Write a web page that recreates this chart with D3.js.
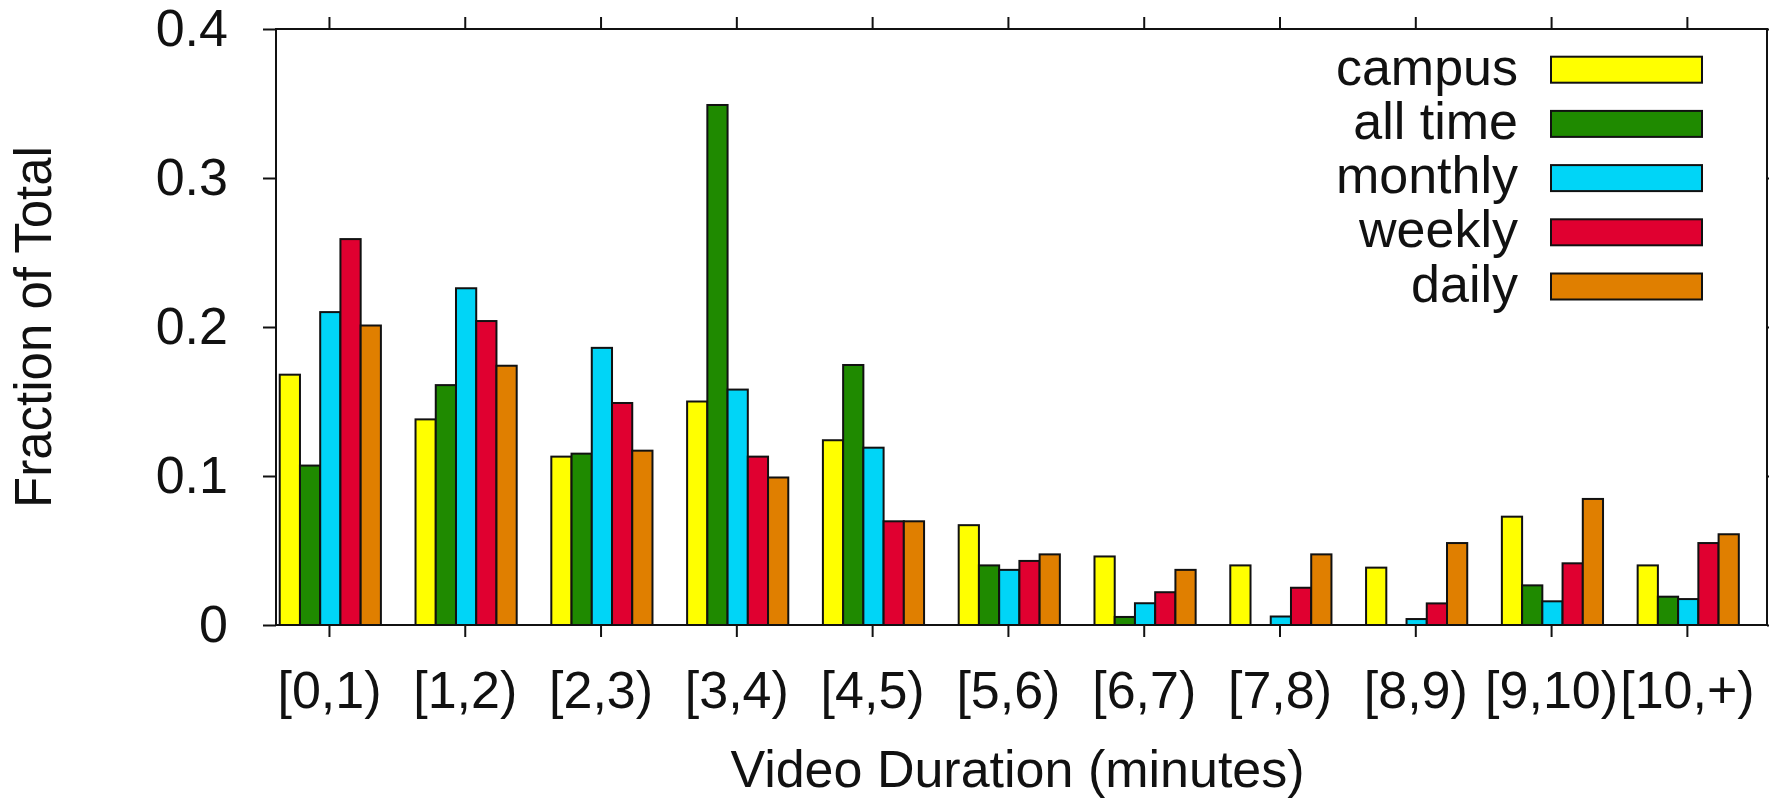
<!DOCTYPE html>
<html>
<head>
<meta charset="utf-8">
<script src="https://cdn.jsdelivr.net/npm/d3@7"></script>
<style>
body { margin: 0; background: #fff; }
svg { display: block; font-family: "Liberation Sans", Arial, sans-serif; }
</style>
</head>
<body>
<svg id="chart" width="1769" height="800"></svg>
<script>
var categories = ["[0,1)", "[1,2)", "[2,3)", "[3,4)", "[4,5)", "[5,6)", "[6,7)", "[7,8)", "[8,9)", "[9,10)", "[10,+)"];
var series_names = ["campus", "all time", "monthly", "weekly", "daily"];
var series_colors = ["#ffff00", "#1f8a00", "#00d5f7", "#e00030", "#e07f00"];
var campus   = [0.168, 0.138, 0.113, 0.150, 0.124, 0.067, 0.046, 0.040, 0.0385, 0.0727, 0.040];
var all_time = [0.107, 0.161, 0.115, 0.349, 0.1745, 0.040, 0.0054, 0, 0, 0.0266, 0.019];
var monthly  = [0.210, 0.226, 0.186, 0.158, 0.119, 0.037, 0.0146, 0.0057, 0.004, 0.0159, 0.0174];
var weekly   = [0.259, 0.204, 0.149, 0.113, 0.0696, 0.043, 0.022, 0.025, 0.0145, 0.0414, 0.055];
var daily    = [0.201, 0.174, 0.117, 0.099, 0.0696, 0.0474, 0.037, 0.0474, 0.055, 0.0846, 0.0609];
var y_ticks = [0, 0.1, 0.2, 0.3, 0.4];

var series = [campus, all_time, monthly, weekly, daily];

// plot frame (window.top is reserved, so no plain "top")
var plot_left = 276, plot_right = 1767, plot_top = 29, plot_bottom = 625;
var bar_w = 0.149; // in category units

var svg = d3.select("#chart");
var x = d3.scaleLinear().domain([-0.39, 10.59]).range([plot_left, plot_right]);
var y = d3.scaleLinear().domain([0, 0.4]).range([plot_bottom, plot_top]);

// bars
series.forEach(function(values, j){
	svg.append("g").selectAll("rect")
	.data(values)
	.enter().append("rect")
	.attr("x", function(d, i){ return x(i + (j - 2.5) * bar_w + 0.01); })
	.attr("y", function(d){ return y(d); })
	.attr("width", x(bar_w) - x(0))
	.attr("height", function(d){ return y(0) - y(d); })
	.attr("fill", series_colors[j])
	.attr("stroke", "#111")
	.attr("stroke-width", 2)
	.style("display", function(d){ return d > 0 ? null : "none"; });
});

// axes (ticks outward, mirrored)
var idx = d3.range(categories.length);
var x_bottom = d3.axisBottom(x).tickValues(idx).tickFormat(function(i){ return categories[i]; })
	.tickSize(12).tickSizeOuter(0).tickPadding(34);
var x_top = d3.axisTop(x).tickValues(idx).tickFormat("").tickSize(12).tickSizeOuter(0);
var y_left = d3.axisLeft(y).tickValues(y_ticks).tickFormat(d3.format("")).tickSize(13).tickSizeOuter(0).tickPadding(35);
var y_right = d3.axisRight(y).tickValues(y_ticks).tickFormat("").tickSize(13).tickSizeOuter(0);

svg.append("g").attr("transform", "translate(0," + plot_bottom + ")").call(x_bottom);
svg.append("g").attr("transform", "translate(0," + plot_top + ")").call(x_top);
svg.append("g").attr("transform", "translate(" + plot_left + ",0)").call(y_left);
svg.append("g").attr("transform", "translate(" + plot_right + ",0)").call(y_right);

svg.selectAll(".domain").remove();
svg.selectAll(".tick line").attr("stroke", "#111").attr("stroke-width", 2);
svg.selectAll(".tick text").attr("font-size", 52).attr("fill", "#111")
	.attr("font-family", "Liberation Sans, Arial, sans-serif");

// frame
svg.append("rect")
.attr("x", plot_left).attr("y", plot_top)
.attr("width", plot_right - plot_left).attr("height", plot_bottom - plot_top)
.attr("fill", "none").attr("stroke", "#111").attr("stroke-width", 2);

// axis titles
svg.append("text")
.attr("x", (plot_left + plot_right) / 2 - 4)
.attr("y", 787)
.attr("text-anchor", "middle")
.attr("font-size", 52)
.attr("fill", "#111")
.text("Video Duration (minutes)");

svg.append("text")
.attr("transform", "translate(51," + ((plot_top + plot_bottom) / 2) + ") rotate(-90)")
.attr("text-anchor", "middle")
.attr("font-size", 51)
.attr("fill", "#111")
.text("Fraction of Total");

// legend
var legend = svg.append("g");
series_names.forEach(function(name, j){
	var ly = 56.7 + j * 54.2;
	legend.append("text")
	.attr("x", 1518)
	.attr("y", ly + 13 + 15)
	.attr("text-anchor", "end")
	.attr("font-size", 52)
	.attr("fill", "#111")
	.text(name);
	legend.append("rect")
	.attr("x", 1551)
	.attr("y", ly)
	.attr("width", 151)
	.attr("height", 26)
	.attr("fill", series_colors[j])
	.attr("stroke", "#111")
	.attr("stroke-width", 2);
});
</script>
</body>
</html>
